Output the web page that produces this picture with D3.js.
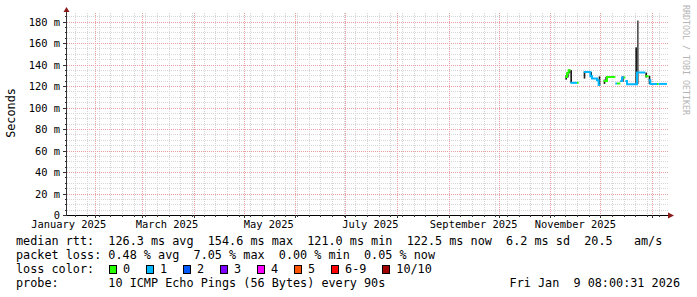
<!DOCTYPE html>
<html>
<head>
<meta charset="utf-8">
<script src="https://cdn.jsdelivr.net/npm/d3@7"></script>
<style>
body { margin: 0; background: #fff; }
text { font-family: "DejaVu Sans Mono", monospace; white-space: pre; }
</style>
</head>
<body>
<div id="chart"></div>
<script>
// Data
//= ================================
var startDate = new Date(2025, 0, 15);
var endDate = new Date(2026, 0, 10);
var firstDay = new Date(2025, 10, 10);

// daily median rtt in ms (null = no data)
var medianMs = [128.5, 132, 134.8, 123, 123, 123, 123, 123, null, null,
    null, 133.2, 133.2, 133.2, 133.2, 129.2, 127, 127, 127, 125.5,
    121, null, null, 124.8, 124.8, 128.5, 128.5, 128.5, 128.5, 128.5,
    122.4, 122.4, 122.4, 124.8, 128, 128, 124.8, 121.7, 121.7, 121.7,
    121.7, 121.7, 121.7, 132.6, 132.6, 132.6, 132.6, 132.6, 129.2, 129.2,
    125.5, 122, 122, 122, 122, 122, 122, 122, 122, 122, 122];
// lost pings per day (index into lossColors)
var lossIdx = [0, 0, 0, 1, 1, 1, 1, 0, 1, 1,
    1, 1, 1, 1, 1, 1, 1, 1, 1, 1,
    1, 1, 1, 0, 0, 0, 0, 0, 0, 0,
    1, 0, 0, 1, 1, 0, 1, 1, 1, 1,
    1, 1, 1, 1, 1, 1, 1, 1, 0, 0,
    1, 1, 1, 1, 1, 0, 1, 1, 1, 1, 1];
// smoke range per day (ms)
var smokeLo = [126, 128, 132, 123, 123, 123, 123, 123, null, null,
    null, 127, 133, 133, 133, 129, 127, 127, 127, 125.5,
    121, null, null, 122, 124, 128.5, 128.5, 128.5, 128.5, 128.5,
    122.4, 122.4, 122.4, 124, 124, 128, 124.8, 121.7, 121.7, 121.7,
    121.7, 121.7, 121.7, 122, 132.6, 132.6, 132.6, 132.6, 128, 129.2,
    122, 122, 122, 122, 122, 122, 122, 122, 122, 122, 122];
var smokeHi = [130, 133, 135.5, 134.8, 123, 123, 123, 123, null, null,
    null, 133.2, 133.2, 133.2, 133.2, 133, 127, 127, 127, 125.5,
    129, null, null, 126, 128.5, 128.5, 128.5, 128.5, 128.5, 128.5,
    122.4, 122.4, 122.4, 124.8, 129, 128, 124.8, 121.7, 121.7, 121.7,
    121.7, 121.7, 156, 181, 132.6, 132.6, 132.6, 132.6, 132.6, 129.2,
    129.5, 122, 122, 122, 122, 122, 122, 122, 122, 122, 122];

var yTicks = [0, 20, 40, 60, 80, 100, 120, 140, 160, 180];
var monthLabels = [new Date(2025, 0, 1), new Date(2025, 2, 1), new Date(2025, 4, 1),
    new Date(2025, 6, 1), new Date(2025, 8, 1), new Date(2025, 10, 1)];

var lossLabels = ["0", "1", "2", "3", "4", "5", "6-9", "10/10"];
var lossColors = ["#26ff00", "#00b8ff", "#0059ff", "#7e00ff", "#ff00ff", "#ff5500", "#ff0000", "#a10000"];

var legendRtt = "median rtt:  126.3 ms avg  154.6 ms max  121.0 ms min  122.5 ms now  6.2 ms sd  20.5   am/s";
var legendLoss = "packet loss: 0.48 % avg  7.05 % max  0.00 % min  0.05 % now";
var legendProbe = "probe:       10 ICMP Echo Pings (56 Bytes) every 90s";
var stamp = "Fri Jan  9 08:00:31 2026";

// Setup the chart
//= ================================
var svgWidth = 697;
var svgHeight = 297;
var margin = { top: 13, left: 67 };
var width = 600;
var height = 202;

var svg = d3.select("#chart")
    .append("svg")
    .attr("width", svgWidth)
    .attr("height", svgHeight);

var g = svg.append("g")
    .attr("transform", `translate(${margin.left}, ${margin.top})`);

var x = d3.scaleTime().domain([startDate, endDate]).range([0, width]);
var y = d3.scaleLinear().domain([0, 188]).range([height, 0]);

var days = medianMs.map((v, i) => d3.timeDay.offset(firstDay, i));
var dayEnd = i => d3.timeDay.offset(firstDay, i + 1);

// grid
var grid = g.append("g").attr("shape-rendering", "crispEdges");
var minorY = d3.range(5, 188, 5).filter(v => v % 20 !== 0);
grid.selectAll(".hmin").data(minorY).enter().append("line")
    .attr("x1", 0).attr("x2", width + 2)
    .attr("y1", d => Math.round(y(d)) + 0.5).attr("y2", d => Math.round(y(d)) + 0.5)
    .attr("stroke", "#d6d6d6").attr("stroke-dasharray", "1,1");

var weeks = d3.timeMonday.range(startDate, endDate);
grid.selectAll(".vmin").data(weeks).enter().append("line")
    .attr("x1", d => Math.round(x(d)) + 0.5).attr("x2", d => Math.round(x(d)) + 0.5)
    .attr("y1", 0).attr("y2", height)
    .attr("stroke", "#d6d6d6").attr("stroke-dasharray", "1,1");

grid.selectAll(".hmaj").data(yTicks.slice(1)).enter().append("line")
    .attr("x1", 0).attr("x2", width + 2)
    .attr("y1", d => Math.round(y(d)) + 0.5).attr("y2", d => Math.round(y(d)) + 0.5)
    .attr("stroke", "#e8a0a0").attr("stroke-dasharray", "1,1");

var months = d3.timeMonth.range(startDate, endDate);
grid.selectAll(".vmaj").data(months).enter().append("line")
    .attr("x1", d => Math.round(x(d)) + 0.5).attr("x2", d => Math.round(x(d)) + 0.5)
    .attr("y1", 0).attr("y2", height)
    .attr("stroke", "#e8a0a0").attr("stroke-dasharray", "1,1");

// smoke (the spike's upper part is lighter)
var smokeData = days.map((d, i) => ({ i: i, lo: smokeLo[i], hi: smokeHi[i] }))
    .filter(d => d.lo != null && d.hi - d.lo > 0.5);
g.selectAll(".smoke")
    .data(smokeData)
    .enter().append("rect")
    .attr("x", d => x(days[d.i]))
    .attr("width", d => x(dayEnd(d.i)) - x(days[d.i]))
    .attr("y", d => y(d.hi))
    .attr("height", d => y(d.lo) - y(d.hi))
    .attr("fill", d => d.hi > 170 ? "#555" : "#1e1e1e");

// median line, one step path per loss colour
var stepLine = d3.line()
    .x(d => x(d.t))
    .y(d => y(d.v))
    .curve(d3.curveStepAfter);

lossColors.forEach(function (color, c) {
    var runs = [];
    var run = null;
    medianMs.forEach(function (v, i) {
        if (v != null && lossIdx[i] === c) {
            if (!run) { run = []; runs.push(run); }
            run.push({ t: days[i], v: v });
        } else if (run) {
            run.push({ t: days[i], v: run[run.length - 1].v });
            run = null;
        }
    });
    if (run) run.push({ t: dayEnd(medianMs.length - 1), v: run[run.length - 1].v });
    g.selectAll(".med" + c).data(runs).enter().append("path")
        .attr("d", stepLine)
        .attr("fill", "none")
        .attr("stroke", color)
        .attr("stroke-width", 2);
});

// axes
var axis = g.append("g").attr("shape-rendering", "crispEdges");
axis.append("line")
    .attr("x1", -0.5).attr("x2", -0.5).attr("y1", height).attr("y2", -4)
    .attr("stroke", "#333");
axis.append("line")
    .attr("x1", -4).attr("x2", width + 3).attr("y1", height + 0.5).attr("y2", height + 0.5)
    .attr("stroke", "#000");
axis.selectAll(".yt").data(yTicks).enter().append("line")
    .attr("x1", -4).attr("x2", 0)
    .attr("y1", d => Math.round(y(d)) + 0.5).attr("y2", d => Math.round(y(d)) + 0.5)
    .attr("stroke", "#333");
axis.selectAll(".yt2").data(minorY).enter().append("line")
    .attr("x1", -2).attr("x2", 0)
    .attr("y1", d => Math.round(y(d)) + 0.5).attr("y2", d => Math.round(y(d)) + 0.5)
    .attr("stroke", "#333");
axis.selectAll(".xt").data(months).enter().append("line")
    .attr("x1", d => Math.round(x(d)) + 0.5).attr("x2", d => Math.round(x(d)) + 0.5)
    .attr("y1", height).attr("y2", height + 3)
    .attr("stroke", "#333");
axis.selectAll(".xt2").data(weeks).enter().append("line")
    .attr("x1", d => Math.round(x(d)) + 0.5).attr("x2", d => Math.round(x(d)) + 0.5)
    .attr("y1", height).attr("y2", height + 2)
    .attr("stroke", "#333");

// arrow heads
g.append("path")
    .attr("d", "M-3.5,-1 L2.5,-1 L-0.5,-6 Z")
    .attr("fill", "#8b1a1a");
g.append("path")
    .attr("d", `M${width + 1},${height - 2.5} L${width + 1},${height + 3.5} L${width + 7},${height + 0.5} Z`)
    .attr("fill", "#8b1a1a");

// tick labels
g.selectAll(".ylab").data(yTicks).enter().append("text")
    .attr("x", -7)
    .attr("y", d => y(d) + 4)
    .attr("text-anchor", "end")
    .attr("font-size", "10.4px")
    .text(d => d === 0 ? "0" : d + " m");

g.selectAll(".xlab").data(monthLabels).enter().append("text")
    .attr("x", d => x(d3.timeDay.offset(d, 15)))
    .attr("y", height + 13)
    .attr("text-anchor", "middle")
    .attr("font-size", "10.4px")
    .text(d => d3.timeFormat("%B %Y")(d));

// axis title and watermark
svg.append("text")
    .attr("transform", "translate(15, 113) rotate(-90)")
    .attr("text-anchor", "middle")
    .attr("font-size", "11.8px")
    .text("Seconds");

svg.append("text")
    .attr("transform", "translate(683, 5) rotate(90)")
    .attr("font-size", "8.3px")
    .attr("fill", "#b4b4b4")
    .text("RRDTOOL / TOBI OETIKER");

// legend
var legend = svg.append("g").attr("font-size", "11.8px");
legend.append("text").attr("x", 16).attr("y", 245).text(legendRtt);
legend.append("text").attr("x", 16).attr("y", 259).text(legendLoss);
legend.append("text").attr("x", 16).attr("y", 273).text("loss color:");
legend.append("text").attr("x", 16).attr("y", 287).text(legendProbe);
legend.append("text").attr("x", 680).attr("y", 287).attr("text-anchor", "end").text(stamp);

var boxX = [];
lossLabels.reduce(function (acc, lab) { boxX.push(acc); return acc + 29.9 + 7.1 * lab.length; }, 108.5);
var items = legend.selectAll(".li").data(lossLabels).enter().append("g")
    .attr("transform", (d, i) => `translate(${boxX[i]}, 0)`);
items.append("rect")
    .attr("x", 0.5).attr("y", 265.5).attr("width", 7).attr("height", 8)
    .attr("fill", (d, i) => lossColors[i])
    .attr("stroke", "#000")
    .attr("shape-rendering", "crispEdges");
items.append("text").attr("x", 14.6).attr("y", 273).text(d => d);
</script>
</body>
</html>
